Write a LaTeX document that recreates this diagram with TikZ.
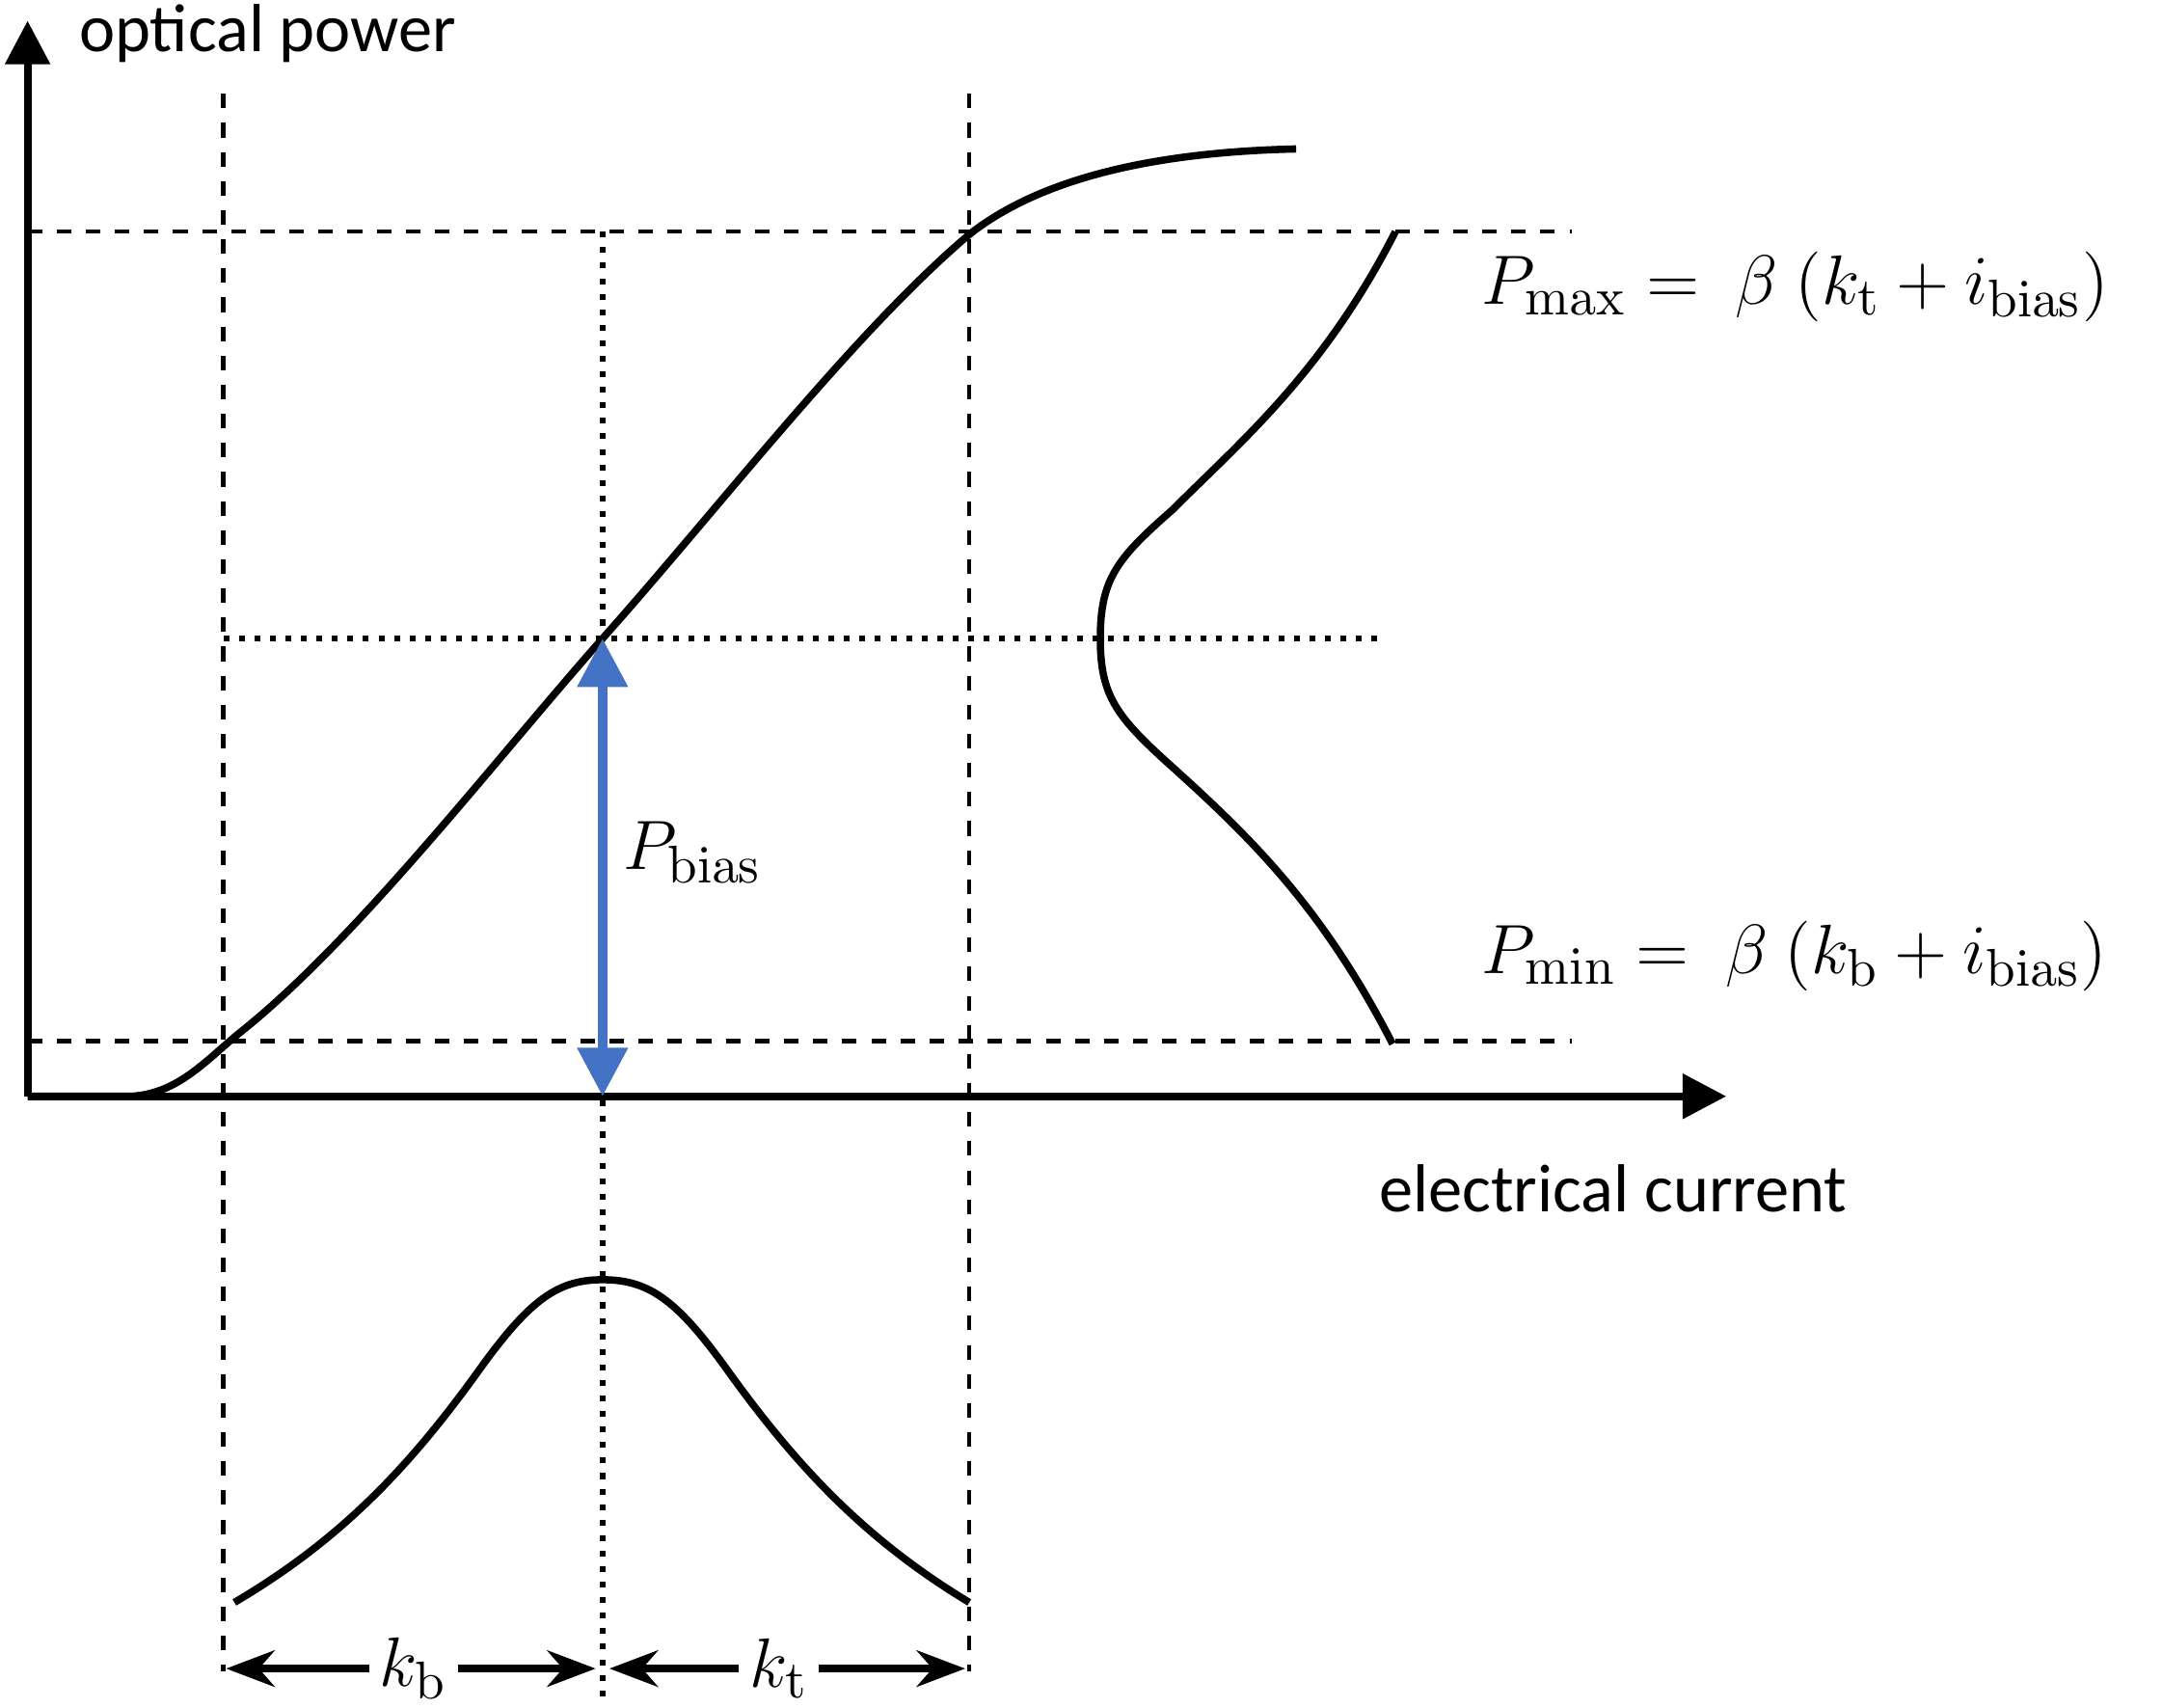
\documentclass[tikz,border=0pt]{standalone}
\usepackage[no-math]{fontspec}
\setmainfont{Carlito}
\usepackage{amsmath}
\usetikzlibrary{arrows.meta,positioning}

\tikzset{
  axis/.style={line width=1.6pt,-{Triangle[length=9pt,width=9pt]}},
  guide/.style={line width=0.9pt,dashed},
  dots/.style={line width=1.2pt,dotted},
  curve/.style={line width=1.5pt},
  lbl/.style={font=\fontsize{14}{16}\selectfont},
  eq/.style={font=\fontsize{15.5}{18}\selectfont,anchor=west}
}

\begin{document}
\begin{tikzpicture}[x=0.01cm,y=-0.01cm]
  \useasboundingbox (0,0) rectangle (1568,1238);

  \coordinate (o) at (20,795);
  \coordinate (ytop) at (20,15);
  \coordinate (xend) at (1252,795);
  \node [lbl,anchor=west] (ylab) at (45,24) {optical power};
  \node [lbl] (xlab) at (1170,862) {electrical current};

  % guides
  \coordinate (vbt) at (162,68);  \coordinate (vbb) at (162,1212);
  \coordinate (vtt) at (703,68);  \coordinate (vtb) at (703,1212);
  \coordinate (hmaxl) at (20,168); \coordinate (hmaxr) at (1140,168);
  \coordinate (hminl) at (20,755); \coordinate (hminr) at (1140,755);
  \coordinate (dvt) at (437,168); \coordinate (dvb) at (437,1232);
  \coordinate (bias) at (437,463); \coordinate (dhl) at (162,463);
  \coordinate (dhr) at (1002,463);
  \coordinate (base) at (437,795);

  \draw [guide] (vbt) -- (vbb);
  \draw [guide] (vtt) -- (vtb);
  \draw [guide] (hmaxl) -- (hmaxr);
  \draw [guide] (hminl) -- (hminr);
  \draw [dots] (dvt) -- (dvb);
  \draw [dots] (dhl) -- (dhr);

  \draw [axis] (o) -- (xend);
  \draw [axis] (o) -- (ytop);

  % characteristic
  \draw [curve] (o) -- (95,795) .. controls (130,793) and (150,768) .. (175,748)
    .. controls (260,680) and (360,550) .. (bias)
    .. controls (520,370) and (620,240) .. (703,170)
    .. controls (760,125) and (850,110) .. (940,108);

  % output distribution
  \draw [curve] (1012,168) .. controls (960,270) and (900,320) .. (850,370)
    .. controls (810,405) and (798,420) .. (798,463)
    .. controls (798,505) and (810,520) .. (850,556)
    .. controls (910,610) and (960,660) .. (1010,757);

  % input distribution
  \draw [curve] (170,1162) .. controls (250,1115) and (300,1060) .. (350,990)
    .. controls (385,942) and (405,928) .. (437,928)
    .. controls (470,928) and (490,942) .. (525,990)
    .. controls (575,1060) and (625,1115) .. (703,1162);

  \draw [line width=2pt,draw={rgb,255:red,68;green,114;blue,196},
    {Triangle[length=10pt,width=10pt]}-{Triangle[length=10pt,width=10pt]}]
    (bias) -- (base);
  \node [eq] (pbias) at (440,618) {$P_{\mathrm{bias}}$};

  \node [eq] (pmax) at (1062,208) {$P_{\mathrm{max}} =\ \beta\ (k_{\mathrm{t}} + i_{\mathrm{bias}})$};
  \node [eq] (pmin) at (1062,693) {$P_{\mathrm{min}} =\ \beta\ (k_{\mathrm{b}} + i_{\mathrm{bias}})$};

  % widths
  \coordinate (kbl) at (164,1210); \coordinate (kbr) at (432,1210);
  \coordinate (ktl) at (442,1210); \coordinate (ktr) at (700,1210);
  \node [eq,anchor=center,fill=white,inner sep=2pt] (kb) at (300,1210) {$k_{\mathrm{b}}$};
  \node [eq,anchor=center,fill=white,inner sep=2pt] (kt) at (565,1210) {$k_{\mathrm{t}}$};
  \draw [line width=1.5pt,-{Stealth[length=10pt]}] (kb.west |- kbl) -- (kbl);
  \draw [line width=1.5pt,-{Stealth[length=10pt]}] (kb.east |- kbr) -- (kbr);
  \draw [line width=1.5pt,-{Stealth[length=10pt]}] (kt.west |- ktl) -- (ktl);
  \draw [line width=1.5pt,-{Stealth[length=10pt]}] (kt.east |- ktr) -- (ktr);
\end{tikzpicture}
\end{document}
